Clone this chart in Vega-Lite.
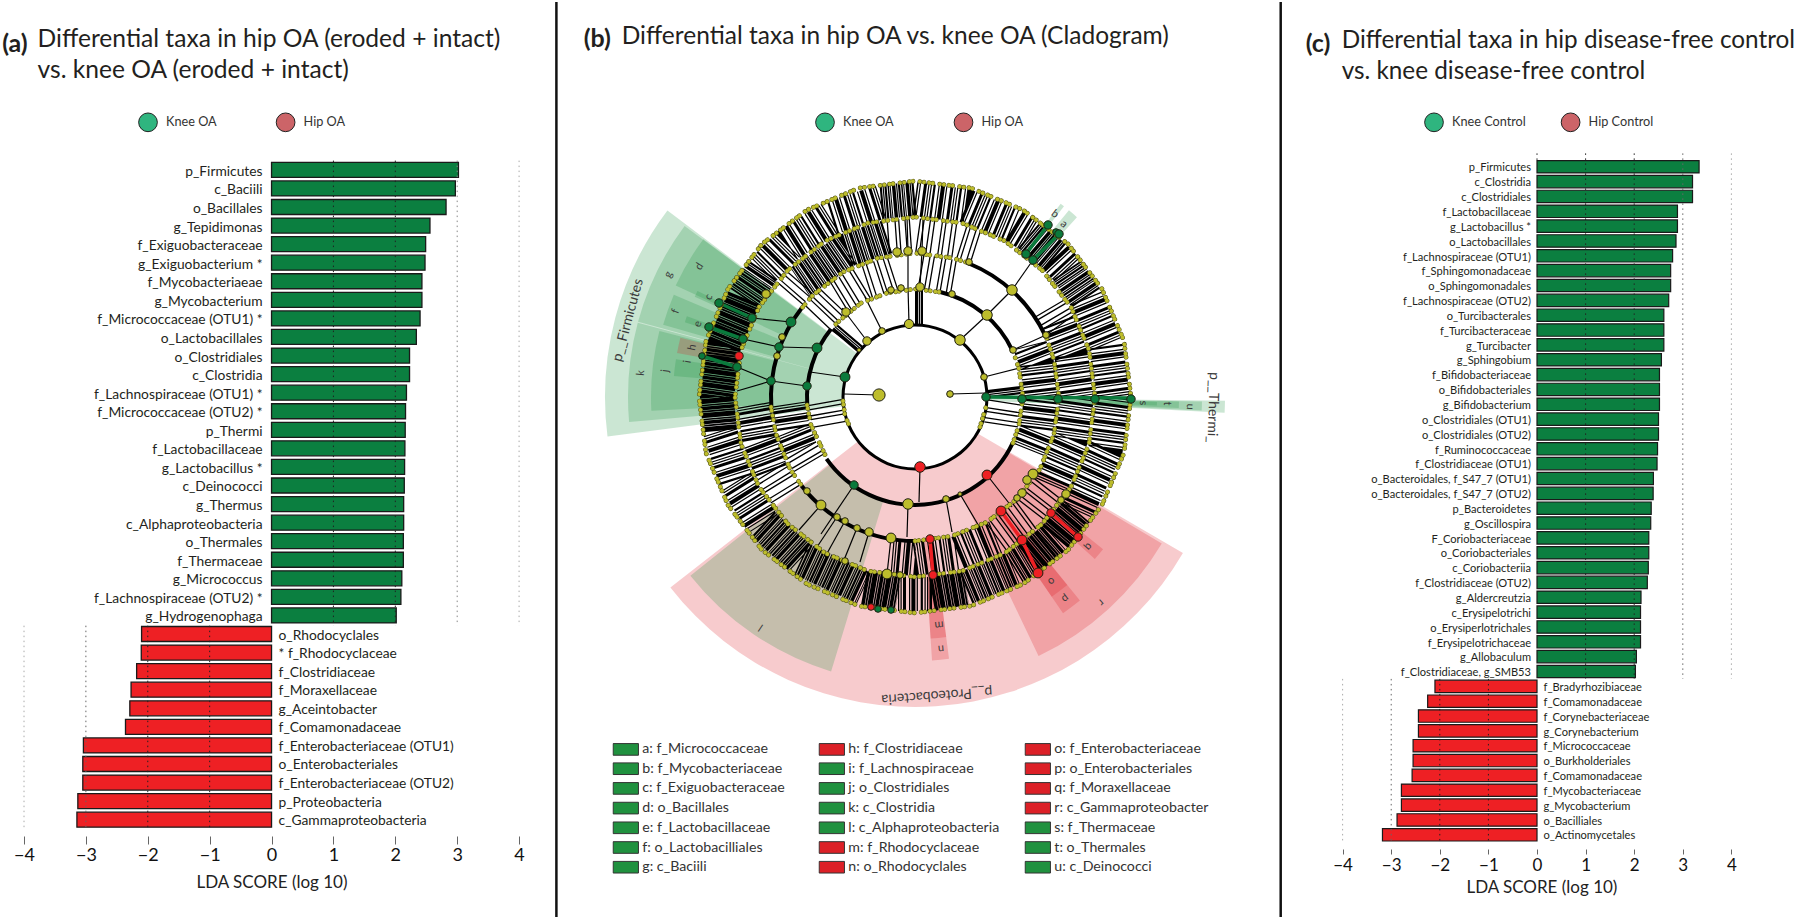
{
"$schema":"https://vega.github.io/schema/vega-lite/v6.json",
"background":"white",
"padding":{"left":2,"top":0,"right":0,"bottom":0},
"bounds":"flush",
"spacing":4,
"config":{"font":"Lato","view":{"stroke":null},"axis":{"labelFont":"Lato","titleFont":"Lato"},"legend":{"labelFont":"Lato"},"title":{"font":"Lato","subtitleFont":"Lato"},"text":{"font":"Lato"}},
"resolve":{"scale":{"color":"independent","fill":"independent","stroke":"independent","x":"independent","y":"independent"},"legend":{"color":"independent","fill":"independent"}},
"datasets":{
"a":[
{"taxon":"p_Firmicutes","lda":3.02,"rank":1,"side":"Knee"},{"taxon":"c_Baciili","lda":2.97,"rank":2,"side":"Knee"},{"taxon":"o_Bacillales","lda":2.82,"rank":3,"side":"Knee"},{"taxon":"g_Tepidimonas","lda":2.56,"rank":4,"side":"Knee"},{"taxon":"f_Exiguobacteraceae","lda":2.49,"rank":5,"side":"Knee"},{"taxon":"g_Exiguobacterium *","lda":2.48,"rank":6,"side":"Knee"},{"taxon":"f_Mycobacteriaeae","lda":2.43,"rank":7,"side":"Knee"},{"taxon":"g_Mycobacterium","lda":2.43,"rank":8,"side":"Knee"},{"taxon":"f_Micrococcaceae (OTU1) *","lda":2.4,"rank":9,"side":"Knee"},{"taxon":"o_Lactobacillales","lda":2.34,"rank":10,"side":"Knee"},{"taxon":"o_Clostridiales","lda":2.23,"rank":11,"side":"Knee"},{"taxon":"c_Clostridia","lda":2.23,"rank":12,"side":"Knee"},{"taxon":"f_Lachnospiraceae (OTU1) *","lda":2.18,"rank":13,"side":"Knee"},{"taxon":"f_Micrococcaceae (OTU2) *","lda":2.165,"rank":14,"side":"Knee"},{"taxon":"p_Thermi","lda":2.16,"rank":15,"side":"Knee"},{"taxon":"f_Lactobacillaceae","lda":2.155,"rank":16,"side":"Knee"},{"taxon":"g_Lactobacillus *","lda":2.15,"rank":17,"side":"Knee"},{"taxon":"c_Deinococci","lda":2.145,"rank":18,"side":"Knee"},{"taxon":"g_Thermus","lda":2.135,"rank":19,"side":"Knee"},{"taxon":"c_Alphaproteobacteria","lda":2.135,"rank":20,"side":"Knee"},{"taxon":"o_Thermales","lda":2.13,"rank":21,"side":"Knee"},{"taxon":"f_Thermaceae","lda":2.13,"rank":22,"side":"Knee"},{"taxon":"g_Micrococcus","lda":2.105,"rank":23,"side":"Knee"},{"taxon":"f_Lachnospiraceae (OTU2) *","lda":2.09,"rank":24,"side":"Knee"},{"taxon":"g_Hydrogenophaga","lda":2.015,"rank":25,"side":"Knee"},
{"taxon":"o_Rhodocyclales","lda":-2.1,"rank":26,"side":"Hip"},{"taxon":"* f_Rhodocyclaceae","lda":-2.105,"rank":27,"side":"Hip"},{"taxon":"f_Clostridiaceae","lda":-2.18,"rank":28,"side":"Hip"},{"taxon":"f_Moraxellaceae","lda":-2.27,"rank":29,"side":"Hip"},{"taxon":"g_Aceintobacter","lda":-2.29,"rank":30,"side":"Hip"},{"taxon":"f_Comamonadaceae","lda":-2.36,"rank":31,"side":"Hip"},{"taxon":"f_Enterobacteriaceae (OTU1)","lda":-3.04,"rank":32,"side":"Hip"},{"taxon":"o_Enterobacteriales","lda":-3.05,"rank":33,"side":"Hip"},{"taxon":"f_Enterobacteriaceae (OTU2)","lda":-3.05,"rank":34,"side":"Hip"},{"taxon":"p_Proteobacteria","lda":-3.13,"rank":35,"side":"Hip"},{"taxon":"c_Gammaproteobacteria","lda":-3.145,"rank":36,"side":"Hip"}],
"c":[
{"taxon":"p_Firmicutes","lda":3.335,"rank":1,"side":"Knee"},{"taxon":"c_Clostridia","lda":3.2,"rank":2,"side":"Knee"},{"taxon":"c_Clostridiales","lda":3.2,"rank":3,"side":"Knee"},{"taxon":"f_Lactobacillaceae","lda":2.89,"rank":4,"side":"Knee"},{"taxon":"g_Lactobacillus *","lda":2.89,"rank":5,"side":"Knee"},{"taxon":"o_Lactobacillales","lda":2.86,"rank":6,"side":"Knee"},{"taxon":"f_Lachnospiraceae (OTU1)","lda":2.79,"rank":7,"side":"Knee"},{"taxon":"f_Sphingomonadaceae","lda":2.75,"rank":8,"side":"Knee"},{"taxon":"o_Sphingomonadales","lda":2.75,"rank":9,"side":"Knee"},{"taxon":"f_Lachnospiraceae (OTU2)","lda":2.71,"rank":10,"side":"Knee"},{"taxon":"o_Turcibacterales","lda":2.61,"rank":11,"side":"Knee"},{"taxon":"f_Turcibacteraceae","lda":2.61,"rank":12,"side":"Knee"},{"taxon":"g_Turcibacter","lda":2.61,"rank":13,"side":"Knee"},{"taxon":"g_Sphingobium","lda":2.56,"rank":14,"side":"Knee"},{"taxon":"f_Bifidobacteriaceae","lda":2.52,"rank":15,"side":"Knee"},{"taxon":"o_Bifidobacteriales","lda":2.52,"rank":16,"side":"Knee"},{"taxon":"g_Bifidobacterium","lda":2.52,"rank":17,"side":"Knee"},{"taxon":"o_Clostridiales (OTU1)","lda":2.5,"rank":18,"side":"Knee"},{"taxon":"o_Clostridiales (OTU2)","lda":2.5,"rank":19,"side":"Knee"},{"taxon":"f_Ruminococcaceae","lda":2.48,"rank":20,"side":"Knee"},{"taxon":"f_Clostridiaceae (OTU1)","lda":2.47,"rank":21,"side":"Knee"},{"taxon":"o_Bacteroidales, f_S47_7 (OTU1)","lda":2.395,"rank":22,"side":"Knee"},{"taxon":"o_Bacteroidales, f_S47_7 (OTU2)","lda":2.39,"rank":23,"side":"Knee"},{"taxon":"p_Bacteroidetes","lda":2.35,"rank":24,"side":"Knee"},{"taxon":"g_Oscillospira","lda":2.34,"rank":25,"side":"Knee"},{"taxon":"F_Coriobacteriaceae","lda":2.3,"rank":26,"side":"Knee"},{"taxon":"o_Coriobacteriales","lda":2.3,"rank":27,"side":"Knee"},{"taxon":"c_Coriobacteriia","lda":2.29,"rank":28,"side":"Knee"},{"taxon":"f_Clostridiaceae (OTU2)","lda":2.27,"rank":29,"side":"Knee"},{"taxon":"g_Aldercreutzia","lda":2.14,"rank":30,"side":"Knee"},{"taxon":"c_Erysipelotrichi","lda":2.13,"rank":31,"side":"Knee"},{"taxon":"o_Erysiperlotrichales","lda":2.13,"rank":32,"side":"Knee"},{"taxon":"f_Erysipelotrichaceae","lda":2.13,"rank":33,"side":"Knee"},{"taxon":"g_Allobaculum","lda":2.045,"rank":34,"side":"Knee"},{"taxon":"f_Clostridiaceae, g_SMB53","lda":2.025,"rank":35,"side":"Knee"},
{"taxon":"f_Bradyrhozibiaceae","lda":-2.1,"rank":36,"side":"Hip"},{"taxon":"f_Comamonadaceae","lda":-2.25,"rank":37,"side":"Hip"},{"taxon":"f_Corynebacteriaceae","lda":-2.44,"rank":38,"side":"Hip"},{"taxon":"g_Corynebacterium","lda":-2.44,"rank":39,"side":"Hip"},{"taxon":"f_Micrococcaceae","lda":-2.55,"rank":40,"side":"Hip"},{"taxon":"o_Burkholderiales","lda":-2.55,"rank":41,"side":"Hip"},{"taxon":"f_Comamonadaceae","lda":-2.57,"rank":42,"side":"Hip"},{"taxon":"f_Mycobacteriaceae","lda":-2.79,"rank":43,"side":"Hip"},{"taxon":"g_Mycobacterium","lda":-2.79,"rank":44,"side":"Hip"},{"taxon":"o_Bacilliales","lda":-2.88,"rank":45,"side":"Hip"},{"taxon":"o_Actinomycetales","lda":-3.18,"rank":46,"side":"Hip"}],
"sectors":[
{"taxon":"p__Firmicutes","t0":262.7,"t1":307,"r0":72,"r1":310},
{"taxon":"p__Proteobacteria","t0":120.2,"t1":232.1,"r0":72,"r1":310},
{"taxon":"p__Thermi_","t0":90.7,"t1":92.9,"r0":72,"r1":310},
{"taxon":"g: c_Baciili","t0":285.2,"t1":306.6,"r0":108,"r1":287},
{"taxon":"k: c_Clostridia","t0":265,"t1":285,"r0":108,"r1":287},
{"taxon":"l: c_Alphaproteobacteria","t0":197,"t1":231.5,"r0":108,"r1":287},
{"taxon":"r: c_Gammaproteobacter","t0":120.7,"t1":154.5,"r0":108,"r1":287},
{"taxon":"u: c_Deinococci","t0":90.9,"t1":92.7,"r0":108,"r1":287},
{"taxon":"d: o_Bacillales","t0":295,"t1":306.7,"r0":144,"r1":264},
{"taxon":"f: o_Lactobacilliales","t0":286,"t1":293,"r0":144,"r1":262},
{"taxon":"j: o_Clostridiales","t0":267,"t1":284.5,"r0":144,"r1":264},
{"taxon":"n: o_Rhodocyclales","t0":172.6,"t1":176.3,"r0":144,"r1":264},
{"taxon":"p: o_Enterobacteriales","t0":141,"t1":145.6,"r0":144,"r1":262},
{"taxon":"t: o_Thermales","t0":91,"t1":92.4,"r0":144,"r1":264},
{"taxon":"c: f_Exiguobacteraceae","t0":294.5,"t1":296,"r0":180,"r1":242},
{"taxon":"e: f_Lactobacillaceae","t0":288,"t1":289.5,"r0":180,"r1":242},
{"taxon":"h: f_Clostridiaceae","t0":280.5,"t1":284.2,"r0":180,"r1":242},
{"taxon":"i: f_Lachnospiraceae","t0":275,"t1":279,"r0":180,"r1":242},
{"taxon":"m: f_Rhodocyclaceae","t0":172.6,"t1":176.3,"r0":180,"r1":242},
{"taxon":"o: f_Enterobacteriaceae","t0":141,"t1":145.6,"r0":180,"r1":242},
{"taxon":"q: f_Moraxellaceae","t0":129,"t1":132,"r0":180,"r1":242},
{"taxon":"s: f_Thermaceae","t0":91.2,"t1":92,"r0":180,"r1":242},
{"taxon":"a: f_Micrococcaceae","t0":39.5,"t1":42,"r0":180,"r1":242},
{"taxon":"b: f_Mycobacteriaceae","t0":37,"t1":38,"r0":180,"r1":242}],
"branches":[
{"t0":0,"t1":180,"r0":70.5,"r1":73.5},{"t0":180,"t1":360,"r0":70.5,"r1":73.5},
{"t0":13,"t1":65,"r0":106,"r1":110},{"t0":266,"t1":309,"r0":106,"r1":110},{"t0":115,"t1":235,"r0":106,"r1":110},
{"t0":22,"t1":65,"r0":142,"r1":146},{"t0":266,"t1":308,"r0":142,"r1":146},{"t0":180,"t1":232,"r0":142,"r1":146}],
"hatch":[
{"s":"D1","d":"mid","x":198,"y":0},{"s":"D1","d":"mid","x":191,"y":51},{"s":"D1","d":"mid","x":171,"y":99},
{"s":"D2","d":"dense","x":171,"y":99},{"s":"D2","d":"dense","x":152,"y":127},
{"s":"D3","d":"mid","x":152,"y":127},{"s":"D3","d":"mid","x":140,"y":140},
{"s":"D4","d":"dense","x":140,"y":140},{"s":"D4","d":"dense","x":114,"y":162},
{"s":"D5","d":"mid","x":114,"y":162},{"s":"D5","d":"mid","x":99,"y":171},{"s":"D5","d":"mid","x":51,"y":191},{"s":"D5","d":"mid","x":0,"y":198},
{"s":"D6","d":"dense","x":0,"y":198},{"s":"D6","d":"dense","x":-34,"y":195},
{"s":"D7","d":"mid","x":-34,"y":195},{"s":"D7","d":"mid","x":-84,"y":179},{"s":"D7","d":"mid","x":-127,"y":152},{"s":"D7","d":"mid","x":-152,"y":127},
{"s":"D8","d":"dense","x":-152,"y":127},{"s":"D8","d":"dense","x":-171,"y":99},
{"s":"D9","d":"black","x":-171,"y":99},{"s":"D9","d":"black","x":-191,"y":51},{"s":"D9","d":"black","x":-198,"y":0},{"s":"D9","d":"black","x":-195,"y":-34},
{"s":"D10","d":"mid","x":-195,"y":-34},{"s":"D10","d":"mid","x":-179,"y":-84},{"s":"D10","d":"mid","x":-152,"y":-127},
{"s":"D11","d":"dense","x":-152,"y":-127},{"s":"D11","d":"dense","x":-114,"y":-162},{"s":"D11","d":"dense","x":-51,"y":-191},
{"s":"D12","d":"black","x":-51,"y":-191},{"s":"D12","d":"black","x":-17,"y":-197},
{"s":"D13","d":"mid","x":-17,"y":-197},{"s":"D13","d":"mid","x":17,"y":-197},
{"s":"D14","d":"black","x":17,"y":-197},{"s":"D14","d":"black","x":51,"y":-191},
{"s":"D15","d":"dense","x":51,"y":-191},{"s":"D15","d":"dense","x":99,"y":-171},{"s":"D15","d":"dense","x":114,"y":-162},
{"s":"D16","d":"black","x":114,"y":-162},{"s":"D16","d":"black","x":132,"y":-147},
{"s":"D17","d":"dense","x":132,"y":-147},{"s":"D17","d":"dense","x":140,"y":-140},
{"s":"D18","d":"black","x":140,"y":-140},{"s":"D18","d":"black","x":162,"y":-114},
{"s":"D19","d":"mid","x":162,"y":-114},{"s":"D19","d":"mid","x":191,"y":-51},{"s":"D19","d":"mid","x":198,"y":0},
{"s":"C1","d":"mid","x":162,"y":0},{"s":"C1","d":"mid","x":156,"y":42},{"s":"C1","d":"mid","x":143,"y":76},
{"s":"C2","d":"wide","x":143,"y":76},{"s":"C2","d":"wide","x":133,"y":93},
{"s":"C3","d":"wide","x":61,"y":150},{"s":"C3","d":"wide","x":42,"y":156},{"s":"C3","d":"wide","x":0,"y":162},{"s":"C3","d":"wide","x":-28,"y":160},
{"s":"C5","d":"dense","x":-28,"y":160},{"s":"C5","d":"dense","x":-68,"y":147},{"s":"C5","d":"dense","x":-115,"y":115},
{"s":"C6","d":"wide","x":-115,"y":115},{"s":"C6","d":"wide","x":-128,"y":100},
{"s":"C7","d":"mid","x":-162,"y":-8},{"s":"C7","d":"mid","x":-156,"y":-42},{"s":"C7","d":"mid","x":-144,"y":-74},
{"s":"C8","d":"wide","x":-144,"y":-74},{"s":"C8","d":"wide","x":-128,"y":-100},
{"s":"C10","d":"mid","x":-23,"y":-160},{"s":"C10","d":"mid","x":0,"y":-162},{"s":"C10","d":"mid","x":42,"y":-156},{"s":"C10","d":"mid","x":81,"y":-140},
{"s":"C11","d":"wide","x":81,"y":-140},{"s":"C11","d":"wide","x":115,"y":-115},{"s":"C11","d":"wide","x":136,"y":-88},
{"s":"C12","d":"mid","x":136,"y":-88},{"s":"C12","d":"mid","x":156,"y":-42},{"s":"C12","d":"mid","x":162,"y":0},
{"s":"B1","d":"mid","x":126,"y":0},{"s":"B1","d":"mid","x":122,"y":33},{"s":"B1","d":"mid","x":115,"y":51},
{"s":"B2","d":"wide","x":39,"y":120},{"s":"B2","d":"wide","x":4,"y":126},
{"s":"B3","d":"wide","x":-22,"y":124},{"s":"B3","d":"wide","x":-53,"y":114},{"s":"B3","d":"wide","x":-81,"y":97},{"s":"B3","d":"wide","x":-99,"y":78},
{"s":"B4","d":"mid","x":-126,"y":-7},{"s":"B4","d":"mid","x":-122,"y":-33},{"s":"B4","d":"mid","x":-114,"y":-53},
{"s":"B5","d":"wide","x":-114,"y":-53},{"s":"B5","d":"wide","x":-104,"y":-70},
{"s":"B7","d":"mid","x":114,"y":-53},{"s":"B7","d":"mid","x":122,"y":-33},{"s":"B7","d":"mid","x":126,"y":0},
{"s":"A1","d":"dense","x":90,"y":1},{"s":"A1","d":"dense","x":89,"y":9},
{"s":"A2","d":"wide","x":86,"y":-28},{"s":"A2","d":"wide","x":90,"y":-2},
{"s":"A3","d":"wide","x":-90,"y":-5},{"s":"A3","d":"wide","x":-86,"y":-28},
{"s":"A4","d":"dense","x":-65,"y":62},{"s":"A4","d":"dense","x":-71,"y":55},
{"s":"A5","d":"dense","x":8,"y":90},{"s":"A5","d":"dense","x":0,"y":90}],
"lines":[
{"k":"b","x":-36,"y":2,"x2":-71,"y2":3},{"k":"b","x":35,"y":3,"x2":71,"y2":4},{"k":"b","x":-70,"y":20,"x2":-105,"y2":25},{"k":"b","x":-98,"y":49,"x2":-136,"y2":50},{"k":"b","x":-108,"y":11,"x2":-144,"y2":16},{"k":"b","x":-124,"y":75,"x2":-163,"y2":79},{"k":"b","x":-136,"y":50,"x2":-172,"y2":58},{"k":"b","x":-144,"y":16,"x2":-178,"y2":30},{"k":"b","x":-144,"y":16,"x2":-178,"y2":6},{"k":"g","x":-163,"y":79,"x2":-196,"y2":94},{"k":"g","x":-172,"y":58,"x2":-206,"y2":70},{"k":"b","x":-176,"y":41,"x2":-213,"y2":41},{"k":"g","x":-178,"y":30,"x2":-213,"y2":41},
{"k":"b","x":-6,"y":73,"x2":-7,"y2":110},{"k":"b","x":-33,"y":66,"x2":-50,"y2":100},{"k":"b","x":-48,"y":56,"x2":-73,"y2":89},{"k":"b","x":-56,"y":47,"x2":-85,"y2":68},{"k":"b","x":-7,"y":110,"x2":-7,"y2":146},{"k":"b","x":-7,"y":146,"x2":-8,"y2":180},
{"k":"b","x":45,"y":57,"x2":72,"y2":82},{"k":"b","x":72,"y":82,"x2":97,"y2":107},{"k":"b","x":97,"y":107,"x2":118,"y2":137},{"k":"b","x":5,"y":110,"x2":7,"y2":146},{"k":"b","x":7,"y":146,"x2":8,"y2":178},{"k":"b","x":69,"y":20,"x2":104,"y2":29},{"k":"b","x":98,"y":47,"x2":131,"y2":62},{"k":"b","x":98,"y":47,"x2":130,"y2":55},{"k":"b","x":131,"y":62,"x2":159,"y2":82},
{"k":"b","x":-61,"y":-88,"x2":-94,"y2":-137},{"k":"b","x":-94,"y":-108,"x2":-116,"y2":-133},{"k":"b","x":-78,"y":-120,"x2":-100,"y2":-153},{"k":"b","x":-70,"y":-124,"x2":-90,"y2":-160},{"k":"b","x":-58,"y":-131,"x2":-71,"y2":-163},{"k":"b","x":-7,"y":-107,"x2":-8,"y2":-140},{"k":"b","x":-24,"y":-141,"x2":-28,"y2":-177},{"k":"b","x":-46,"y":-135,"x2":-55,"y2":-165},{"k":"b","x":5,"y":-70,"x2":4,"y2":-105},{"k":"b","x":72,"y":-78,"x2":97,"y2":-110},{"k":"b","x":31,"y":-102,"x2":37,"y2":-135},{"k":"b","x":45,"y":-97,"x2":65,"y2":-131},
{"k":"g","x":111,"y":143,"x2":133,"y2":172},{"k":"g","x":118,"y":137,"x2":144,"y2":163},{"k":"g","x":71,"y":0,"x2":216,"y2":-1},
{"k":"r","x":86,"y":-114,"x2":107,"y2":-143},{"k":"r","x":107,"y":-143,"x2":123,"y2":-176},{"k":"r","x":15,"y":-142,"x2":18,"y2":-178},{"k":"r","x":136,"y":-116,"x2":163,"y2":-140}],
"rings":[
{"s":"R5","x":216,"y":0},{"s":"R5","x":209,"y":56},{"s":"R5","x":187,"y":108},{"s":"R5","x":153,"y":153},{"s":"R5","x":108,"y":187},{"s":"R5","x":56,"y":209},{"s":"R5","x":0,"y":216},{"s":"R5","x":-56,"y":209},{"s":"R5","x":-108,"y":187},{"s":"R5","x":-153,"y":153},{"s":"R5","x":-187,"y":108},{"s":"R5","x":-209,"y":56},{"s":"R5","x":-216,"y":0},{"s":"R5","x":-209,"y":-56},{"s":"R5","x":-187,"y":-108},{"s":"R5","x":-153,"y":-153},{"s":"R5","x":-108,"y":-187},{"s":"R5","x":-56,"y":-209},{"s":"R5","x":0,"y":-216},{"s":"R5","x":56,"y":-209},{"s":"R5","x":108,"y":-187},{"s":"R5","x":153,"y":-153},{"s":"R5","x":187,"y":-108},{"s":"R5","x":209,"y":-56},{"s":"R5","x":216,"y":0},
{"s":"R4","x":180,"y":0},{"s":"R4","x":174,"y":47},{"s":"R4","x":156,"y":90},{"s":"R4","x":127,"y":127},{"s":"R4","x":90,"y":156},{"s":"R4","x":47,"y":174},{"s":"R4","x":0,"y":180},{"s":"R4","x":-47,"y":174},{"s":"R4","x":-90,"y":156},{"s":"R4","x":-127,"y":127},{"s":"R4","x":-156,"y":90},{"s":"R4","x":-174,"y":47},{"s":"R4","x":-180,"y":0},{"s":"R4","x":-174,"y":-47},{"s":"R4","x":-156,"y":-90},{"s":"R4","x":-127,"y":-127},{"s":"R4","x":-90,"y":-156},{"s":"R4","x":-47,"y":-174},{"s":"R4","x":0,"y":-180},{"s":"R4","x":47,"y":-174},{"s":"R4","x":90,"y":-156},{"s":"R4","x":127,"y":-127},{"s":"R4","x":156,"y":-90},{"s":"R4","x":174,"y":-47},{"s":"R4","x":180,"y":0},
{"s":"R3a","x":144,"y":0},{"s":"R3a","x":139,"y":37},{"s":"R3a","x":131,"y":61},
{"s":"R3b","x":54,"y":134},{"s":"R3b","x":37,"y":139},{"s":"R3b","x":0,"y":144},{"s":"R3b","x":-37,"y":139},{"s":"R3b","x":-72,"y":125},{"s":"R3b","x":-102,"y":102},{"s":"R3b","x":-113,"y":89},
{"s":"R3c","x":-144,"y":-10},{"s":"R3c","x":-139,"y":-37},{"s":"R3c","x":-125,"y":-72},{"s":"R3c","x":-113,"y":-89},
{"s":"R3d","x":0,"y":-144},{"s":"R3d","x":37,"y":-139},{"s":"R3d","x":72,"y":-125},{"s":"R3d","x":102,"y":-102},{"s":"R3d","x":125,"y":-72},{"s":"R3d","x":139,"y":-37},{"s":"R3d","x":144,"y":0},
{"s":"R2a","x":108,"y":0},{"s":"R2a","x":104,"y":28},{"s":"R2a","x":100,"y":40},
{"s":"R2b","x":24,"y":105},{"s":"R2b","x":0,"y":108},{"s":"R2b","x":-28,"y":104},{"s":"R2b","x":-54,"y":94},{"s":"R2b","x":-76,"y":76},{"s":"R2b","x":-84,"y":68},
{"s":"R2c","x":-108,"y":-8},{"s":"R2c","x":-104,"y":-28},{"s":"R2c","x":-88,"y":-62},
{"s":"R2d","x":98,"y":-46},{"s":"R2d","x":104,"y":-28},{"s":"R2d","x":108,"y":0},
{"s":"R1a","x":-72,"y":-4},{"s":"R1a","x":-70,"y":-19},{"s":"R1a","x":-66,"y":-28},
{"s":"R1b","x":65,"y":-30},{"s":"R1b","x":71,"y":-10}],
"nodes":[
{"k":"n","x":0,"y":0,"w":0.3},{"k":"n","x":-36,"y":2,"w":6},{"k":"n","x":35,"y":3,"w":2},{"k":"n","x":-7,"y":146,"w":3},{"k":"n","x":-18,"y":145,"w":3},{"k":"n","x":-6,"y":73,"w":3.5},{"k":"n","x":-33,"y":66,"w":2},{"k":"n","x":-48,"y":56,"w":3},{"k":"n","x":-56,"y":47,"w":1},{"k":"n","x":-14,"y":109,"w":2},{"k":"n","x":-24,"y":107,"w":2},{"k":"n","x":-69,"y":85,"w":3},{"k":"n","x":-149,"y":103,"w":3},{"k":"n","x":-133,"y":60,"w":2},{"k":"n","x":-138,"y":41,"w":2},{"k":"n","x":45,"y":57,"w":4.5},{"k":"n","x":72,"y":82,"w":4.5},{"k":"n","x":97,"y":107,"w":4.5},{"k":"n","x":7,"y":146,"w":3},{"k":"n","x":5,"y":110,"w":3},{"k":"n","x":69,"y":20,"w":2},{"k":"n","x":98,"y":47,"w":2},{"k":"n","x":131,"y":62,"w":2},{"k":"n","x":54,"y":135,"w":2},{"k":"n","x":37,"y":103,"w":2},{"k":"n","x":-94,"y":-108,"w":4},{"k":"n","x":-7,"y":-107,"w":4.5},{"k":"n","x":-24,"y":-141,"w":4},{"k":"n","x":-28,"y":-177,"w":4},{"k":"n","x":-46,"y":-135,"w":3},{"k":"n","x":-58,"y":-131,"w":2},{"k":"n","x":-70,"y":-124,"w":2},{"k":"n","x":-78,"y":-120,"w":2},{"k":"n","x":-70,"y":-164,"w":2},{"k":"n","x":-15,"y":-178,"w":2},{"k":"n","x":-108,"y":-94,"w":2},{"k":"n","x":31,"y":-102,"w":2},{"k":"n","x":45,"y":-97,"w":1},{"k":"n","x":118,"y":-77,"w":4},{"k":"n","x":112,"y":-83,"w":3},{"k":"n","x":107,"y":-96,"w":3},{"k":"n","x":102,"y":-101,"w":2},{"k":"n","x":151,"y":-97,"w":3},{"k":"n","x":146,"y":-103,"w":2},
{"k":"g","x":-70,"y":20,"w":4},{"k":"g","x":-98,"y":49,"w":4},{"k":"g","x":-108,"y":11,"w":3},{"k":"g","x":-124,"y":75,"w":4},{"k":"g","x":-136,"y":50,"w":3},{"k":"g","x":-144,"y":16,"w":3},{"k":"g","x":-163,"y":79,"w":3},{"k":"g","x":-172,"y":58,"w":3},{"k":"g","x":-178,"y":30,"w":3},{"k":"g","x":-196,"y":94,"w":3},{"k":"g","x":-206,"y":70,"w":3},{"k":"g","x":-213,"y":41,"w":2},{"k":"g","x":-61,"y":-88,"w":3},{"k":"g","x":133,"y":172,"w":3},{"k":"g","x":141,"y":165,"w":2},{"k":"g","x":144,"y":163,"w":3},{"k":"g","x":111,"y":143,"w":3},{"k":"g","x":118,"y":137,"w":3},{"k":"g","x":71,"y":0,"w":3},{"k":"g","x":107,"y":-2,"w":3},{"k":"g","x":143,"y":-2,"w":3},{"k":"g","x":180,"y":-2,"w":3},{"k":"g","x":216,"y":-2,"w":3},{"k":"g","x":-37,"y":-212,"w":2},{"k":"g","x":-24,"y":-213,"w":2},
{"k":"r","x":-176,"y":41,"w":3},{"k":"r","x":5,"y":-70,"w":4.5},{"k":"r","x":72,"y":-78,"w":4},{"k":"r","x":86,"y":-114,"w":4},{"k":"r","x":107,"y":-143,"w":4},{"k":"r","x":123,"y":-176,"w":4},{"k":"r","x":136,"y":-116,"w":3},{"k":"r","x":163,"y":-140,"w":3},{"k":"r","x":15,"y":-142,"w":3},{"k":"r","x":18,"y":-178,"w":3},{"k":"r","x":-44,"y":-210,"w":2}],
"letters":[
{"label":"a","t":40.7,"r":228,"s":11},{"label":"b","t":37.4,"r":230,"s":11},{"label":"c","t":295.9,"r":229,"s":11},{"label":"d","t":301.2,"r":252,"s":11},{"label":"e","t":288.6,"r":229,"s":11},{"label":"f","t":289.7,"r":254,"s":11},{"label":"g","t":296.4,"r":275,"s":11},{"label":"h","t":282.6,"r":228,"s":11},{"label":"i","t":278.8,"r":230,"s":11},{"label":"j","t":276,"r":251,"s":11},{"label":"k","t":275,"r":275,"s":11},{"label":"l","t":213.8,"r":277,"s":11},{"label":"m","t":174,"r":229,"s":11},{"label":"n","t":174.1,"r":253,"s":11},{"label":"o","t":143.5,"r":229,"s":11},{"label":"p","t":143.3,"r":251,"s":11},{"label":"q","t":130.8,"r":229,"s":11},{"label":"r","t":137.8,"r":277,"s":11},{"label":"s","t":91.5,"r":228,"s":11},{"label":"t","t":91.5,"r":252,"s":11},{"label":"u","t":92,"r":275,"s":11},{"label":"p__Firmicutes","t":285,"r":297,"s":14},{"label":"p__Thermi_","t":92,"r":298,"s":14},{"label":"p__Proteobacteria","t":175.8,"r":299,"s":14}]
},
"hconcat":[
{"width":526.4,"height":799,
"title":{"text":["Differential taxa in hip OA (eroded + intact)","vs. knee OA (eroded + intact)"],"anchor":"start","frame":"group","dx":13.6,"offset":-52,"fontSize":24.6,"fontWeight":"normal","color":"#231f20","lineHeight":31},
"layer":[
{"data":{"name":"a"},"mark":{"type":"bar","orient":"horizontal","size":15,"stroke":"#1a1a1a","strokeWidth":1.3},"encoding":{
"x":{"field":"lda","type":"quantitative","title":"LDA SCORE (log 10)","scale":{"domain":[-4,4.506],"nice":false,"zero":false},"axis":{"values":[-4,-3,-2,-1,0,1,2,3,4],"format":"d","domain":false,"grid":false,"tickSize":8,"tickColor":"#666","labelFontSize":18,"labelColor":"#111","labelPadding":2,"titleFontSize":17,"titleFontWeight":"normal","titleColor":"#222","titleX":247.5,"titleY":38,"titleAnchor":"middle","labelFlush":false}},
"y":{"field":"rank","type":"quantitative","axis":null,"scale":{"domain":[36.61,-5.888],"nice":false,"zero":false}},
"fill":{"field":"side","type":"nominal","legend":null,"scale":{"domain":["Knee","Hip"],"range":["#0b7f40","#ee2024"]}}}},
{"data":{"values":[{"v":1,"a":0.5,"b":25.55},{"v":2,"a":0.5,"b":25.55},{"v":3,"a":0.5,"b":25.55},{"v":4,"a":0.5,"b":25.55},{"v":-1,"a":25.55,"b":36.45},{"v":-2,"a":25.55,"b":36.45},{"v":-3,"a":25.55,"b":36.45},{"v":-4,"a":25.55,"b":36.45}]},"mark":{"type":"rule","strokeDash":[1.5,3.5],"strokeWidth":1},"encoding":{
"x":{"field":"v","type":"quantitative","title":"LDA SCORE (log 10)"},"y":{"field":"a","type":"quantitative","axis":null},"y2":{"field":"b"},
"stroke":{"field":"v","type":"nominal","legend":null,"scale":{"domain":[1,2,3,4,-1,-2,-3,-4],"range":["#222","#222","#888","#aaa","#222","#222","#666","#aaa"]}}}},
{"data":{"name":"a"},"transform":[{"filter":"datum.side=='Knee'"}],"mark":{"type":"text","align":"right","dx":-9,"dy":2,"fontSize":13.8,"color":"#231f20"},"encoding":{"x":{"datum":0,"title":"LDA SCORE (log 10)"},"y":{"field":"rank","type":"quantitative","axis":null},"text":{"field":"taxon"}}},
{"data":{"name":"a"},"transform":[{"filter":"datum.side=='Hip'"}],"mark":{"type":"text","align":"left","dx":7,"dy":1.5,"fontSize":13.8,"color":"#231f20"},"encoding":{"x":{"datum":0,"title":"LDA SCORE (log 10)"},"y":{"field":"rank","type":"quantitative","axis":null},"text":{"field":"taxon"}}},
{"data":{"values":[{"tag":"(a)"}]},"mark":{"type":"text","align":"left","baseline":"middle","fontSize":25,"fontWeight":"bold","color":"#231f20"},"encoding":{"x":{"datum":-4.352,"title":"LDA SCORE (log 10)"},"y":{"datum":-5.78,"axis":null},"text":{"field":"tag"}}},
{"data":{"values":[{"group":"Knee OA"},{"group":"Hip OA"}]},"mark":{"type":"point","filled":true,"opacity":0},"encoding":{"color":{"field":"group","type":"nominal","title":null,"scale":{"domain":["Knee OA","Hip OA"],"range":["#2fb57f","#cc6468"]},"legend":{"orient":"none","legendX":114,"legendY":75,"direction":"horizontal","symbolType":"circle","symbolSize":350,"symbolStrokeColor":"#222","symbolStrokeWidth":1,"symbolOpacity":1,"labelFontSize":12.7,"labelColor":"#333","columnPadding":56.6,"labelOffset":8}}}}
]},
{"width":720,"height":720,
"title":{"text":"Differential taxa in hip OA vs. knee OA (Cladogram)","anchor":"start","frame":"group","dx":66.7,"offset":-49,"fontSize":24.5,"fontWeight":"normal","color":"#231f20"},
"layer":[
{"data":{"name":"sectors"},"mark":{"type":"arc","opacity":0.23,"strokeWidth":1},"encoding":{
"theta":{"field":"t0","type":"quantitative","stack":null,"scale":{"domain":[0,360],"range":[0,6.28318]}},"theta2":{"field":"t1"},
"radius":{"field":"r0","type":"quantitative","scale":{"type":"linear","domain":[0,360],"range":[0,360]}},"radius2":{"field":"r1"},
"fill":{"field":"taxon","type":"nominal","title":null,"scale":{"domain":["a: f_Micrococcaceae","b: f_Mycobacteriaceae","c: f_Exiguobacteraceae","d: o_Bacillales","e: f_Lactobacillaceae","f: o_Lactobacilliales","g: c_Baciili","h: f_Clostridiaceae","i: f_Lachnospiraceae","j: o_Clostridiales","k: c_Clostridia","l: c_Alphaproteobacteria","m: f_Rhodocyclaceae","n: o_Rhodocyclales","o: f_Enterobacteriaceae","p: o_Enterobacteriales","q: f_Moraxellaceae","r: c_Gammaproteobacter","s: f_Thermaceae","t: o_Thermales","u: c_Deinococci","p__Firmicutes","p__Proteobacteria","p__Thermi_"],"range":["#20913f","#20913f","#20913f","#20913f","#20913f","#20913f","#20913f","#dc2027","#20913f","#20913f","#20913f","#20913f","#dc2027","#dc2027","#dc2027","#dc2027","#dc2027","#dc2027","#20913f","#20913f","#20913f","#20913f","#dc2027","#20913f"]},
"legend":{"orient":"none","legendX":57.3,"legendY":705,"direction":"vertical","columns":3,"gridAlign":"all","values":["a: f_Micrococcaceae","b: f_Mycobacteriaceae","c: f_Exiguobacteraceae","d: o_Bacillales","e: f_Lactobacillaceae","f: o_Lactobacilliales","g: c_Baciili","h: f_Clostridiaceae","i: f_Lachnospiraceae","j: o_Clostridiales","k: c_Clostridia","l: c_Alphaproteobacteria","m: f_Rhodocyclaceae","n: o_Rhodocyclales","o: f_Enterobacteriaceae","p: o_Enterobacteriales","q: f_Moraxellaceae","r: c_Gammaproteobacter","s: f_Thermaceae","t: o_Thermales","u: c_Deinococci"],"symbolType":"M-1,-0.46H1V0.46H-1Z","symbolSize":640,"symbolOpacity":1,"symbolStrokeColor":"#333","symbolStrokeWidth":1,"clipHeight":14,"rowPadding":4.7,"columnPadding":21,"labelFontSize":14.2,"labelColor":"#333","labelOffset":3,"labelLimit":200}}}},
{"data":{"name":"hatch"},"mark":{"type":"line","stroke":"#000","strokeWidth":34,"strokeCap":"butt"},"encoding":{
"x":{"field":"x","type":"quantitative","axis":null,"scale":{"domain":[-360,360],"nice":false,"zero":false}},"y":{"field":"y","type":"quantitative","axis":null,"scale":{"domain":[-360,360],"nice":false,"zero":false}},
"detail":{"field":"s"},"order":{"value":null},
"strokeDash":{"field":"d","type":"nominal","legend":null,"scale":{"domain":["black","dense","mid","wide"],"range":[[3.5,0.5,1.8,0.5,5,0.7,1.5,0.5],[2.2,0.7,1.2,0.7,3.5,1.2,1,0.7,1.5,0.9],[1.2,1.3,1.2,1.3,3,3,1.2,1.2,4,1.3,1.2,2.8,2.2,1.6],[1.3,3,1.3,5,1.3,2.4,1.3,6.5]]}}}},
{"data":{"name":"branches"},"mark":{"type":"arc","fill":"#000"},"encoding":{"theta":{"field":"t0","type":"quantitative","stack":null},"theta2":{"field":"t1"},"radius":{"field":"r0","type":"quantitative"},"radius2":{"field":"r1"}}},
{"data":{"name":"lines"},"mark":{"type":"rule"},"encoding":{
"x":{"field":"x","type":"quantitative","axis":null},"y":{"field":"y","type":"quantitative","axis":null},"x2":{"field":"x2"},"y2":{"field":"y2"},
"stroke":{"condition":[{"test":"datum.k=='g'","value":"#0a7a3c"},{"test":"datum.k=='r'","value":"#ee2024"}],"value":"#000"},
"strokeWidth":{"condition":{"test":"datum.k!='b'","value":3.5},"value":1.2}}},
{"data":{"name":"rings"},"mark":{"type":"line","stroke":"#4e4e14","strokeWidth":4.8,"strokeCap":"round","strokeDash":[0.01,3.6,0.01,5.2,0.01,4.2,0.01,7]},"encoding":{"x":{"field":"x","type":"quantitative","axis":null},"y":{"field":"y","type":"quantitative","axis":null},"detail":{"field":"s"},"order":{"value":null}}},
{"data":{"name":"rings"},"mark":{"type":"line","stroke":"#bdbd2c","strokeWidth":3.8,"strokeCap":"round","strokeDash":[0.01,3.6,0.01,5.2,0.01,4.2,0.01,7]},"encoding":{"x":{"field":"x","type":"quantitative","axis":null},"y":{"field":"y","type":"quantitative","axis":null},"detail":{"field":"s"},"order":{"value":null}}},
{"data":{"name":"nodes"},"mark":{"type":"point","filled":true,"opacity":1,"stroke":"#1f1f10","strokeWidth":1},"encoding":{"x":{"field":"x","type":"quantitative","axis":null},"y":{"field":"y","type":"quantitative","axis":null},
"size":{"field":"w","type":"quantitative","legend":null,"scale":{"domain":[1,6],"range":[18,150]}},
"color":{"condition":[{"test":"datum.k=='g'","value":"#0a7a3c"},{"test":"datum.k=='r'","value":"#ee2024"}],"value":"#bdbd2c"}}},
{"data":{"name":"letters"},"mark":{"type":"text","color":"#3b3b3b","baseline":"middle"},"encoding":{"theta":{"field":"t","type":"quantitative","stack":null},"radius":{"field":"r","type":"quantitative"},"angle":{"field":"t","type":"quantitative","scale":null},"text":{"field":"label"},"size":{"field":"s","type":"quantitative","scale":null}}},
{"data":{"values":[{"tag":"(b)"}]},"mark":{"type":"text","align":"left","baseline":"middle","fontSize":25,"fontWeight":"bold","color":"#231f20"},"encoding":{"x":{"datum":-331.3,"axis":null},"y":{"datum":358,"axis":null},"text":{"field":"tag"}}},
{"data":{"values":[{"group":"Knee OA"},{"group":"Hip OA"}]},"mark":{"type":"point","filled":true,"opacity":0},"encoding":{"color":{"field":"group","type":"nominal","title":null,"scale":{"domain":["Knee OA","Hip OA"],"range":["#2fb57f","#cc6468"]},"legend":{"orient":"none","legendX":260,"legendY":75,"direction":"horizontal","symbolType":"circle","symbolSize":350,"symbolStrokeColor":"#222","symbolStrokeWidth":1,"symbolOpacity":1,"labelFontSize":12.7,"labelColor":"#333","columnPadding":57.5,"labelOffset":8}}}},
{"data":{"values":[{"edge":-358.6},{"edge":365.7}]},"mark":{"type":"rule","stroke":"#111","strokeWidth":2.5},"encoding":{"x":{"field":"edge","type":"quantitative","axis":null},"y":{"datum":395,"axis":null},"y2":{"datum":-520}}}
]},
{"width":452.4,"height":812,
"title":{"text":["Differential taxa in hip disease-free control","vs. knee disease-free control"],"anchor":"start","frame":"group","dx":62.7,"offset":-52,"fontSize":24.3,"fontWeight":"normal","color":"#231f20","lineHeight":31},
"layer":[
{"data":{"name":"c"},"mark":{"type":"bar","orient":"horizontal","size":12.4,"stroke":"#1a1a1a","strokeWidth":1.2},"encoding":{
"x":{"field":"lda","type":"quantitative","title":"LDA SCORE (log 10)","scale":{"domain":[-5.309,4],"nice":false,"zero":false},"axis":{"values":[-4,-3,-2,-1,0,1,2,3,4],"format":"d","domain":false,"grid":false,"tickSize":5,"tickColor":"#666","labelFontSize":17,"labelColor":"#111","labelPadding":3,"titleFontSize":17,"titleFontWeight":"normal","titleColor":"#222","titleX":262.4,"titleY":30,"titleAnchor":"middle","labelFlush":false}},
"y":{"field":"rank","type":"quantitative","axis":null,"scale":{"domain":[46.62,-7.403],"nice":false,"zero":false}},
"fill":{"field":"side","type":"nominal","legend":null,"scale":{"domain":["Knee","Hip"],"range":["#0b7f40","#ee2024"]}}}},
{"data":{"values":[{"v":0,"a":0.1,"b":0.6},{"v":1,"a":0.1,"b":35.5},{"v":2,"a":0.1,"b":35.5},{"v":3,"a":0.1,"b":35.5},{"v":4,"a":0.1,"b":35.5},{"v":-1,"a":35.5,"b":46.4},{"v":-2,"a":35.5,"b":46.4},{"v":-3,"a":35.5,"b":46.4},{"v":-4,"a":35.5,"b":46.4}]},"mark":{"type":"rule","strokeDash":[1.5,3.5],"strokeWidth":1},"encoding":{
"x":{"field":"v","type":"quantitative","title":"LDA SCORE (log 10)"},"y":{"field":"a","type":"quantitative","axis":null},"y2":{"field":"b"},
"stroke":{"field":"v","type":"nominal","legend":null,"scale":{"domain":[0,1,2,3,4,-1,-2,-3,-4],"range":["#222","#222","#222","#666","#aaa","#222","#222","#666","#aaa"]}}}},
{"data":{"name":"c"},"transform":[{"filter":"datum.side=='Knee'"}],"mark":{"type":"text","align":"right","dx":-6,"dy":1.7,"fontSize":11.1,"color":"#231f20"},"encoding":{"x":{"datum":0,"title":"LDA SCORE (log 10)"},"y":{"field":"rank","type":"quantitative","axis":null},"text":{"field":"taxon"}}},
{"data":{"name":"c"},"transform":[{"filter":"datum.side=='Hip'"}],"mark":{"type":"text","align":"left","dx":6.5,"dy":1.7,"fontSize":11.1,"color":"#231f20"},"encoding":{"x":{"datum":0,"title":"LDA SCORE (log 10)"},"y":{"field":"rank","type":"quantitative","axis":null},"text":{"field":"taxon"}}},
{"data":{"values":[{"tag":"(c)"}]},"mark":{"type":"text","align":"left","baseline":"middle","fontSize":25,"fontWeight":"bold","color":"#231f20"},"encoding":{"x":{"datum":-4.76,"title":"LDA SCORE (log 10)"},"y":{"datum":-7.27,"axis":null},"text":{"field":"tag"}}},
{"data":{"values":[{"group":"Knee Control"},{"group":"Hip Control"}]},"mark":{"type":"point","filled":true,"opacity":0},"encoding":{"color":{"field":"group","type":"nominal","title":null,"scale":{"domain":["Knee Control","Hip Control"],"range":["#2fb57f","#cc6468"]},"legend":{"orient":"none","legendX":145,"legendY":75,"direction":"horizontal","symbolType":"circle","symbolSize":350,"symbolStrokeColor":"#222","symbolStrokeWidth":1,"symbolOpacity":1,"labelFontSize":12.7,"labelColor":"#333","columnPadding":32.6,"labelOffset":8}}}}
]}
]}
